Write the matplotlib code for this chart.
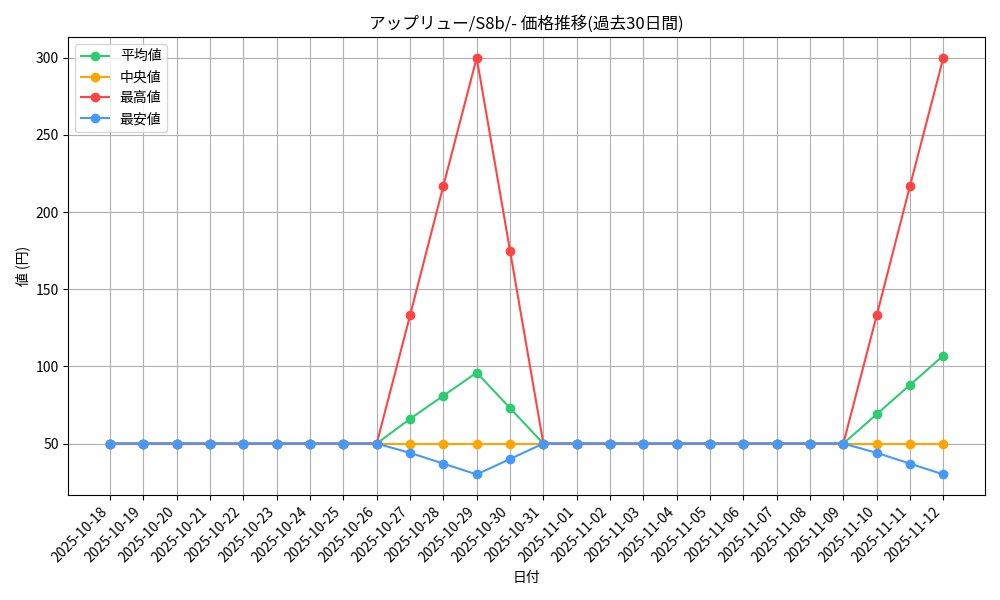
import matplotlib
matplotlib.use("Agg")
import matplotlib.pyplot as plt

plt.rcParams['font.family'] = ['Noto Sans CJK JP', 'DejaVu Sans']

dates = ["2025-10-18","2025-10-19","2025-10-20","2025-10-21","2025-10-22","2025-10-23","2025-10-24",
         "2025-10-25","2025-10-26","2025-10-27","2025-10-28","2025-10-29","2025-10-30","2025-10-31",
         "2025-11-01","2025-11-02","2025-11-03","2025-11-04","2025-11-05","2025-11-06","2025-11-07",
         "2025-11-08","2025-11-09","2025-11-10","2025-11-11","2025-11-12"]
mean_v = [50]*9 + [66, 81, 96, 73] + [50]*10 + [69, 88, 107]
median_v = [50]*26
max_v = [50]*9 + [133, 217, 300, 175] + [50]*10 + [133, 217, 300]
min_v = [50]*9 + [44, 37, 30, 40] + [50]*10 + [44, 37, 30]

fig, ax = plt.subplots(figsize=(10, 6), dpi=100)
x = range(len(dates))
ax.plot(x, mean_v, marker='o', color='#2ecc71', label='平均値')
ax.plot(x, median_v, marker='o', color='#ffa500', label='中央値')
ax.plot(x, max_v, marker='o', color='#ff4444', label='最高値')
ax.plot(x, min_v, marker='o', color='#4499ff', label='最安値')
ax.set_xticks(list(x))
ax.set_xticklabels(dates, rotation=45, ha='right')
ax.set_title('アップリュー/S8b/- 価格推移(過去30日間)')
ax.set_xlabel('日付')
ax.set_ylabel('値 (円)')
ax.grid(True)
ax.legend(loc='upper left')
fig.tight_layout()
fig.savefig('out.png')
